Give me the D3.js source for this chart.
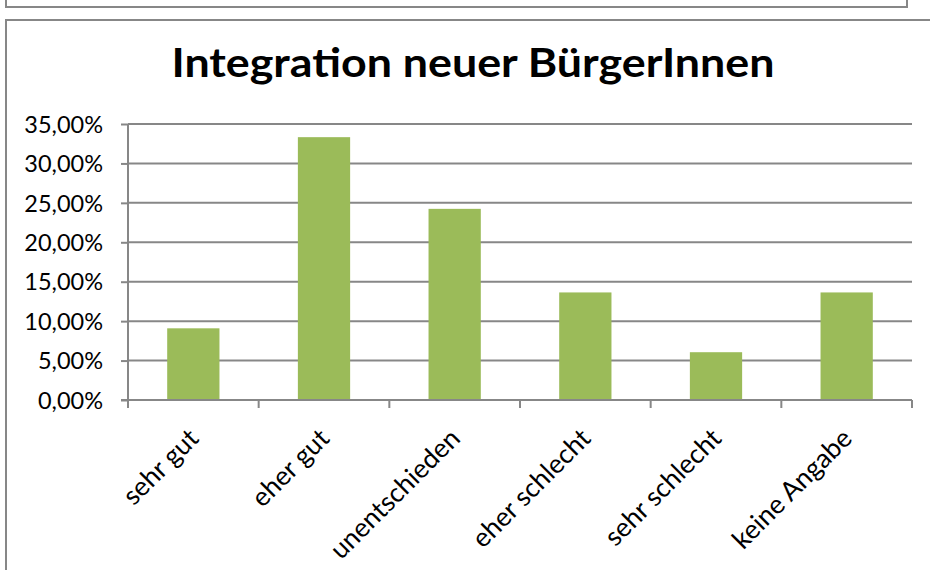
<!DOCTYPE html>
<html>
<head>
<meta charset="utf-8">
<script src="https://cdn.jsdelivr.net/npm/d3@7"></script>
<style>
  body { margin: 0; background: #fff; }
  text { font-family: Lato, "Open Sans", sans-serif; fill: #000; }
</style>
</head>
<body>
<div id="chart"></div>
<script>
var width = 930,
    height = 570;

var categories = ["sehr gut", "eher gut", "unentschieden", "eher schlecht", "sehr schlecht", "keine Angabe"];
var values = [9.09, 33.33, 24.24, 13.64, 6.06, 13.64];
var yTicks = [0, 5, 10, 15, 20, 25, 30, 35];
var title = "Integration neuer BürgerInnen";

var margin = {left: 128, right: 912, top: 124, bottom: 400};

var svg = d3.select("#chart").append("svg")
    .attr("width", width)
    .attr("height", height);

var x = d3.scaleBand()
    .domain(categories)
    .range([margin.left, margin.right])
    .paddingInner(0.6)
    .paddingOuter(0.3);

var y = d3.scaleLinear()
    .domain([0, 35])
    .range([margin.bottom, margin.top]);

drawFrames();
drawGrid();
drawBars();
drawAxes();

function drawFrames() {
  // bottom of the chart above this one
  svg.append("path")
      .attr("d", "M6,0V7H907V0")
      .attr("fill", "none")
      .attr("stroke", "#878787")
      .attr("stroke-width", 2);
  // this chart's frame
  svg.append("rect")
      .attr("x", 6)
      .attr("y", 20)
      .attr("width", 960)
      .attr("height", 600)
      .attr("fill", "none")
      .attr("stroke", "#878787")
      .attr("stroke-width", 2);

  svg.append("text")
      .attr("x", 473)
      .attr("y", 77)
      .attr("text-anchor", "middle")
      .attr("textLength", 603)
      .attr("lengthAdjust", "spacingAndGlyphs")
      .style("font-size", "41px")
      .style("font-weight", "bold")
      .text(title);
}

function drawGrid() {
  svg.append("g")
      .selectAll("line")
      .data(yTicks.slice(1))
    .enter().append("line")
      .attr("x1", margin.left)
      .attr("x2", margin.right)
      .attr("y1", function(d) { return y(d); })
      .attr("y2", function(d) { return y(d); })
      .attr("stroke", "#878787")
      .attr("stroke-width", 2);
}

function drawBars() {
  svg.append("g")
      .selectAll("rect")
      .data(values)
    .enter().append("rect")
      .attr("x", function(d, i) { return x(categories[i]); })
      .attr("width", x.bandwidth())
      .attr("y", function(d) { return y(d); })
      .attr("height", function(d) { return y(0) - y(d); })
      .attr("fill", "#9bbb59");
}

function drawAxes() {
  var yAxis = d3.axisLeft(y)
      .tickValues(yTicks)
      .tickSize(7)
      .tickPadding(18)
      .tickFormat(function(d) { return d3.format(".2f")(d).replace(".", ",") + "%"; });

  var gy = svg.append("g")
      .attr("transform", "translate(" + margin.left + ",0)")
      .call(yAxis);
  gy.selectAll("path, line").attr("stroke", "#878787").attr("stroke-width", 2);
  gy.select(".domain").attr("d", "M0," + margin.top + "V" + (margin.bottom + 8));
  gy.selectAll("text")
      .attr("dy", "0.35em")
      .style("font-size", "23.5px")
      .style("font-family", "Lato, sans-serif");

  // x axis line and boundary ticks
  var bounds = d3.range(categories.length + 1).map(function(i) {
    return margin.left + i * x.step();
  });
  var gx = svg.append("g");
  gx.append("line")
      .attr("x1", margin.left - 7)
      .attr("x2", margin.right)
      .attr("y1", margin.bottom)
      .attr("y2", margin.bottom)
      .attr("stroke", "#878787")
      .attr("stroke-width", 2);
  gx.selectAll(".xtick")
      .data(bounds)
    .enter().append("line")
      .attr("class", "xtick")
      .attr("x1", function(d) { return d; })
      .attr("x2", function(d) { return d; })
      .attr("y1", margin.bottom)
      .attr("y2", margin.bottom + 8)
      .attr("stroke", "#878787")
      .attr("stroke-width", 2);

  gx.selectAll(".xlabel")
      .data(categories)
    .enter().append("text")
      .attr("class", "xlabel")
      .attr("text-anchor", "end")
      .attr("transform", function(d) {
        return "translate(" + (x(d) + x.bandwidth() / 2 + 7) + "," + 440 + ")rotate(-45)";
      })
      .style("font-size", "26.5px")
      .text(function(d) { return d; });
}
</script>
</body>
</html>
